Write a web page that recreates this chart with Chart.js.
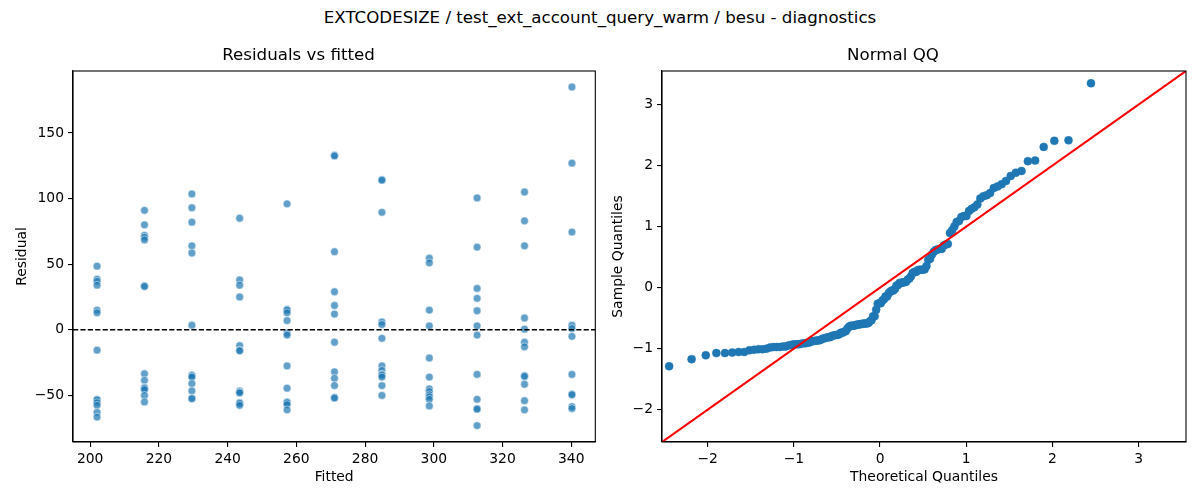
<!DOCTYPE html>
<html>
<head>
<meta charset="utf-8">
<script src="https://cdn.jsdelivr.net/npm/chart.js@4.4.1/dist/chart.umd.min.js"></script>
<style>
  body { margin: 0; background: #fff; }
  #wrap { position: relative; width: 1200px; height: 500px; font-family: 'DejaVu Sans', sans-serif; }
  #suptitle { position: absolute; top: 8px; left: 0; width: 1200px; line-height: 20px; text-align: center; font-size: 16.67px; color: #000; }
  canvas { position: absolute; top: 0; }
</style>
</head>
<body>
<div id="wrap">
  <div id="suptitle">EXTCODESIZE / test_ext_account_query_warm / besu - diagnostics</div>
  <canvas id="residChart" width="600" height="500" style="left:0"></canvas>
  <canvas id="qqChart" width="600" height="500" style="left:600px"></canvas>
</div>
<script>
// fitted values (one per group) and the residuals
const fittedLevels = [202.0, 215.8, 229.6, 243.5, 257.3, 271.1, 284.9, 298.7, 312.6, 326.4, 340.2];
const resid202 = [48.5, 38.5, 37, 34, 15, 13, -15.5, -53, -53.5, -55.5, -57.5, -63, -66.5];
const resid216 = [91, 80, 72, 70.5, 68.5, 33.5, 33, -33.5, -38.5, -44, -44.5, -45.5, -50, -55];
const resid230 = [103.5, 93, 82, 64, 58.5, 3.5, -34.5, -35, -36, -41, -46.5, -52, -52.5];
const resid243 = [85, 38, 34, 25, -12, -15.5, -16, -46.5, -47.5, -48, -55.5, -56, -57.5];
const resid257 = [96, 15.5, 15, 13, 7, -2.5, -4, -27.5, -44.5, -55, -55.5, -57, -61];
const resid271 = [133, 132.5, 59.5, 29, 18.5, 12, -9.5, -32, -37, -42.5, -51.5, -52];
const resid285 = [114.5, 114, 89.5, 6, 4, -6.5, -27.5, -31, -34, -34.5, -36, -42.5, -50];
const resid299 = [54.5, 51, 15, 3, -21.5, -36, -45, -47, -49.5, -51, -53, -58];
const resid313 = [100.5, 63, 31.5, 24, 14.5, 3, -4, -34, -53, -60, -60.5, -73];
const resid326 = [105, 83, 64, 9, 0.5, -9.5, -13, -35, -35.5, -41.5, -54, -61];
const resid340 = [185, 127, 74.5, 3.5, 1, -5, -34, -49, -49.5, -58.5, -60];
const residualGroups = [resid202, resid216, resid230, resid243, resid257, resid271,
                        resid285, resid299, resid313, resid326, resid340];

// ticks and axis limits
const residXTicks = [200, 220, 240, 260, 280, 300, 320, 340];
const residYTicks = [-50, 0, 50, 100, 150];
const residXRange = [195, 347];
const residYRange = [-85.5, 197.2];
const qqTicks = [-2, -1, 0, 1, 2, 3];
const qqRange = [-2.53, 3.55];

Chart.defaults.font.family = "'DejaVu Sans', sans-serif";
Chart.defaults.color = '#000';

const fmt = v => (v < 0 ? '\u2212' + Math.abs(v) : String(v));

// residual scatter points
const residPoints = [];
residualGroups.forEach((g, i) => g.forEach(r => residPoints.push({ x: fittedLevels[i], y: r })));

// normal QQ from the same residuals (standardised, plotting positions i/(n+1))
function normInv(p) {
  const a = [-3.969683028665376e+01, 2.209460984245205e+02, -2.759285104469687e+02, 1.383577518672690e+02, -3.066479806614716e+01, 2.506628277459239e+00];
  const b = [-5.447609879822406e+01, 1.615858368580409e+02, -1.556989798598866e+02, 6.680131188771972e+01, -1.328068155288572e+01];
  const c = [-7.784894002430293e-03, -3.223964580411365e-01, -2.400758277161838e+00, -2.549671464203429e+00, 4.374664141464968e+00, 2.938163982698783e+00];
  const d = [7.784695709041462e-03, 3.224671290700398e-01, 2.445134137142996e+00, 3.754408661907416e+00];
  const pl = 0.02425;
  let q, r;
  if (p < pl) {
    q = Math.sqrt(-2 * Math.log(p));
    return (((((c[0]*q+c[1])*q+c[2])*q+c[3])*q+c[4])*q+c[5]) / ((((d[0]*q+d[1])*q+d[2])*q+d[3])*q+1);
  }
  if (p > 1 - pl) {
    q = Math.sqrt(-2 * Math.log(1 - p));
    return -(((((c[0]*q+c[1])*q+c[2])*q+c[3])*q+c[4])*q+c[5]) / ((((d[0]*q+d[1])*q+d[2])*q+d[3])*q+1);
  }
  q = p - 0.5; r = q * q;
  return (((((a[0]*r+a[1])*r+a[2])*r+a[3])*r+a[4])*r+a[5])*q / (((((b[0]*r+b[1])*r+b[2])*r+b[3])*r+b[4])*r+1);
}
const allResid = residPoints.map(p => p.y);
const n = allResid.length;
const mean = allResid.reduce((s, v) => s + v, 0) / n;
const sd = Math.sqrt(allResid.reduce((s, v) => s + (v - mean) ** 2, 0) / (n - 1));
const qqPoints = allResid.slice().sort((a, b) => a - b)
  .map((v, i) => ({ x: normInv((i + 1) / (n + 1)), y: (v - mean) / sd }));

const framePlugin = {
  id: 'frame',
  afterDatasetsDraw(chart) {
    const { ctx, chartArea: a } = chart;
    ctx.save();
    ctx.strokeStyle = '#000';
    ctx.lineWidth = 1.1;
    ctx.strokeRect(a.left, a.top, a.right - a.left, a.bottom - a.top);
    ctx.restore();
  }
};

function axis(range, ticks, title, fitSize, horizontal, titlePad) {
  return {
    type: 'linear',
    min: range[0],
    max: range[1],
    afterBuildTicks: s => { s.ticks = ticks.map(v => ({ value: v })); },
    afterFit: s => { if (horizontal) s.height = fitSize; else s.width = fitSize; },
    grid: { display: true, drawOnChartArea: false, drawTicks: true, tickLength: 5, color: '#000', lineWidth: 1.1 },
    border: { display: true, color: '#000', width: 1.1 },
    ticks: { padding: 4, font: { size: 13.89 }, color: '#000', maxRotation: 0, callback: v => fmt(v) },
    title: { display: true, text: title, font: { size: 13.89 }, padding: titlePad }
  };
}

function titleOpts(text) {
  return { display: true, text: text, font: { size: 16.67, weight: 'normal' }, padding: { top: 46, bottom: 5 } };
}

new Chart(document.getElementById('residChart').getContext('2d'), {
  type: 'scatter',
  data: {
    datasets: [
      {
        data: [{ x: residXRange[0], y: 0 }, { x: residXRange[1], y: 0 }],
        showLine: true,
        borderColor: '#000',
        borderWidth: 1.4,
        borderDash: [5.2, 2.2],
        pointRadius: 0
      },
      {
        data: residPoints,
        pointRadius: 3.9,
        backgroundColor: 'rgba(31,119,180,0.7)',
        borderColor: 'rgba(255,255,255,0.7)',
        borderWidth: 0.7
      }
    ]
  },
  options: {
    responsive: false,
    animation: false,
    events: [],
    layout: { padding: { left: 0, right: 3, top: 0, bottom: 0 } },
    plugins: { legend: { display: false }, tooltip: { enabled: false }, title: titleOpts('Residuals vs fitted') },
    scales: {
      x: axis(residXRange, residXTicks, 'Fitted', 58, true, { top: 0, bottom: 14.7 }),
      y: axis(residYRange, residYTicks, 'Residual', 73, false, { top: 13.7, bottom: 0 })
    }
  },
  plugins: [framePlugin]
});

new Chart(document.getElementById('qqChart').getContext('2d'), {
  type: 'scatter',
  data: {
    datasets: [
      {
        data: [{ x: qqRange[0], y: qqRange[0] }, { x: qqRange[1], y: qqRange[1] }],
        showLine: true,
        borderColor: '#ff0000',
        borderWidth: 2.1,
        pointRadius: 0
      },
      {
        data: qqPoints,
        pointRadius: 4,
        backgroundColor: '#1f77b4',
        borderColor: '#1f77b4',
        borderWidth: 0.5
      }
    ]
  },
  options: {
    responsive: false,
    animation: false,
    events: [],
    layout: { padding: { left: 0, right: 14, top: 0, bottom: 0 } },
    plugins: { legend: { display: false }, tooltip: { enabled: false }, title: titleOpts('Normal QQ') },
    scales: {
      x: axis(qqRange, qqTicks, 'Theoretical Quantiles', 58, true, { top: 0, bottom: 14.7 }),
      y: axis(qqRange, qqTicks, 'Sample Quantiles', 62, false, { top: 9.7, bottom: 0 })
    }
  },
  plugins: [framePlugin]
});
</script>
</body>
</html>
